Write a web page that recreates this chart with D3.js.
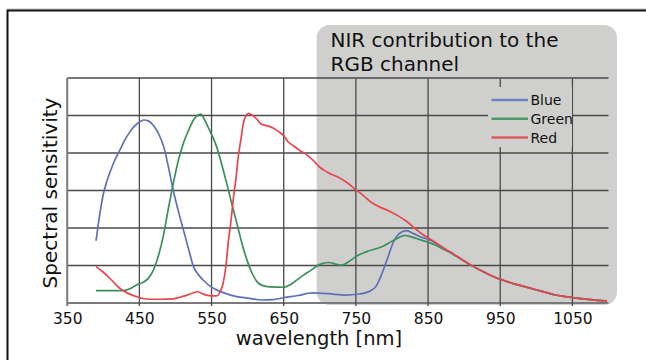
<!DOCTYPE html>
<html><head><meta charset="utf-8">
<script src="https://cdn.jsdelivr.net/npm/d3@7"></script>
<style>
html,body{margin:0;padding:0;background:#fff;}
svg{display:block;font-family:"DejaVu Sans",sans-serif;}
</style></head>
<body>
<script>
// ---- data ----
const xTickValues = [350, 450, 550, 650, 750, 850, 950, 1050];
const yGridValues = [0, 1, 2, 3, 4, 5, 6];
const seriesNames = ["Blue", "Green", "Red"];
const seriesColors = ["#5f70b6", "#3b8f5c", "#e8454d"];
const legendColors = ["#6f7fbf", "#4a9a6a", "#de5a5c"];

const blueData = [[390,1.66],[395,2.35],[400,2.9],[405,3.25],[414,3.72],[423,4.08],[430,4.35],[437,4.57],[448,4.8],[456,4.88],[463,4.85],[470,4.72],[477,4.5],[484,4.15],[490,3.65],[497,3.0],[504,2.45],[511,1.95],[518,1.45],[525,0.97],[532,0.75],[539,0.6],[548,0.45],[557,0.35],[570,0.25],[585,0.17],[600,0.13],[620,0.08],[635,0.09],[650,0.14],[670,0.2],[690,0.27],[712,0.25],[735,0.21],[755,0.24],[770,0.32],[778,0.45],[786,0.78],[794,1.2],[801,1.58],[810,1.85],[820,1.93],[830,1.85],[840,1.76],[850,1.7],[865,1.55],[876,1.41],[885,1.31],[900,1.12],[913,0.97],[927,0.83],[941,0.7],[955,0.6],[969,0.51],[985,0.43],[998,0.36],[1012,0.29],[1025,0.22],[1040,0.17],[1056,0.13],[1075,0.09],[1098,0.05]];

const greenData = [[390,0.33],[428,0.33],[437,0.38],[446,0.48],[455,0.55],[462,0.65],[470,0.9],[477,1.3],[483,1.77],[490,2.5],[497,3.19],[504,3.8],[511,4.26],[518,4.6],[525,4.88],[530,5.0],[535,5.04],[540,4.9],[545,4.7],[551,4.45],[557,4.17],[564,3.7],[571,3.19],[578,2.65],[585,2.13],[592,1.6],[599,1.15],[606,0.8],[613,0.57],[620,0.47],[631,0.43],[650,0.42],[660,0.5],[668,0.61],[678,0.75],[686,0.85],[700,1.03],[712,1.08],[722,1.04],[730,1.01],[740,1.1],[751,1.25],[765,1.37],[786,1.5],[800,1.65],[810,1.75],[818,1.8],[826,1.77],[834,1.72],[845,1.65],[857,1.57],[876,1.39],[894,1.19],[913,0.97],[927,0.83],[941,0.7],[955,0.6],[969,0.51],[985,0.43],[998,0.36],[1012,0.29],[1025,0.22],[1040,0.17],[1056,0.13],[1075,0.09],[1098,0.05]];

const redData = [[390,0.97],[400,0.82],[409,0.66],[416,0.52],[423,0.39],[435,0.25],[446,0.17],[455,0.12],[465,0.1],[480,0.1],[497,0.11],[507,0.16],[516,0.21],[523,0.26],[530,0.3],[537,0.25],[543,0.21],[550,0.19],[557,0.19],[562,0.3],[566,0.52],[570,1.0],[573,1.59],[577,2.2],[580,2.75],[584,3.35],[587,3.9],[591,4.4],[594,4.79],[598,5.0],[601,5.06],[607,5.0],[613,4.9],[618,4.78],[622,4.75],[630,4.71],[636,4.66],[643,4.57],[650,4.46],[656,4.3],[663,4.2],[672,4.07],[682,3.95],[691,3.8],[700,3.62],[705,3.55],[714,3.45],[725,3.36],[737,3.22],[748,3.05],[760,2.87],[771,2.69],[782,2.57],[795,2.46],[808,2.33],[820,2.18],[833,1.97],[843,1.82],[850,1.74],[865,1.55],[876,1.41],[885,1.31],[900,1.12],[913,0.97],[927,0.83],[941,0.7],[955,0.6],[969,0.51],[985,0.43],[998,0.36],[1012,0.29],[1025,0.22],[1040,0.17],[1056,0.13],[1075,0.09],[1098,0.05]];

const allSeries = [blueData, greenData, redData];

const titleLines = ["NIR contribution to the", "RGB channel"];
const xLabel = "wavelength [nm]";
const yLabel = "Spectral sensitivity";
const nirStart = 697; // wavelength where the NIR box begins

// ---- layout ----
const W = 646, H = 360;
const pLeft = 67.2, pRight = 608.5, pTop = 78, pBottom = 303;

const svg = d3.select("body").append("svg").attr("width", W).attr("height", H);
svg.append("rect").attr("width", W).attr("height", H).attr("fill", "#fff");

// outer frame
svg.append("line").attr("x1", 7).attr("x2", W).attr("y1", 9).attr("y2", 9).attr("stroke", "#bbb").attr("stroke-width", 1);
svg.append("rect").attr("x", 7.5).attr("y", 10.5).attr("width", 700).attr("height", 500)
  .attr("fill", "none").attr("stroke", "#111").attr("stroke-width", 2);

const x = d3.scaleLinear().domain([350, 1100]).range([pLeft, pRight]);
const y = d3.scaleLinear().domain([0, 6]).range([pBottom, pTop]);

// NIR box
svg.append("rect").attr("x", x(nirStart) - 1).attr("y", 25).attr("width", 617 - x(nirStart) + 1).attr("height", 305 - 25)
  .attr("rx", 13).attr("ry", 13).attr("fill", "#cfd0cd");

// grid
const grid = svg.append("g");
grid.selectAll("line.h").data(yGridValues).join("line")
  .attr("x1", pLeft).attr("x2", pRight).attr("y1", d => y(d)).attr("y2", d => y(d))
  .attr("stroke", d => d === 0 ? "#7a7a7a" : "#4a4a4a").attr("stroke-width", d => d === 0 ? 2 : 1.3);
grid.selectAll("line.v").data(xTickValues).join("line")
  .attr("x1", d => x(d)).attr("x2", d => x(d)).attr("y1", pTop).attr("y2", pBottom + 3)
  .attr("stroke", d => d === 350 ? "#7a7a7a" : "#4a4a4a").attr("stroke-width", d => d === 350 ? 2 : 1.3);

// x axis labels
const xAxis = d3.axisBottom(x).tickValues(xTickValues).tickSize(0).tickPadding(10).tickFormat(d3.format("d"));
const gx = svg.append("g").attr("transform", `translate(0,${pBottom})`).call(xAxis);
gx.select(".domain").remove();
gx.selectAll("text").attr("font-size", 15.5).attr("font-family", "DejaVu Sans").attr("fill", "#111");

// legend
const legX = 491.5, legY0 = 100, legDY = 18.8;
svg.append("rect").attr("x", 488).attr("y", 87).attr("width", 84).attr("height", 60).attr("fill", "#cfd0cd");
const leg = svg.append("g");
seriesNames.forEach((n, i) => {
  const yy = legY0 + i * legDY;
  leg.append("line").attr("x1", legX).attr("x2", legX + 36.5).attr("y1", yy).attr("y2", yy)
    .attr("stroke", legendColors[i]).attr("stroke-width", 2.5);
  leg.append("text").attr("x", legX + 39).attr("y", yy + 5).attr("font-size", 14).attr("fill", "#111").text(n);
});

// curves
const line = d3.line().x(d => x(d[0])).y(d => y(d[1])).curve(d3.curveMonotoneX);
allSeries.forEach((s, i) => {
  svg.append("path").datum(s).attr("d", line).attr("fill", "none")
    .attr("stroke", seriesColors[i]).attr("stroke-width", 1.7).attr("stroke-linejoin", "round");
});

// title
titleLines.forEach((t, i) => {
  svg.append("text").attr("x", 330.5).attr("y", 47 + i * 23.5).attr("font-size", 20).attr("fill", "#111").text(t);
});

// axis titles
svg.append("text").attr("x", 319).attr("y", 344.5).attr("text-anchor", "middle").attr("font-size", 19.5).attr("fill", "#111").text(xLabel);
svg.append("text").attr("transform", "translate(56.5,193) rotate(-90)").attr("text-anchor", "middle")
  .attr("font-size", 20).attr("fill", "#111").text(yLabel);
</script>
</body></html>
